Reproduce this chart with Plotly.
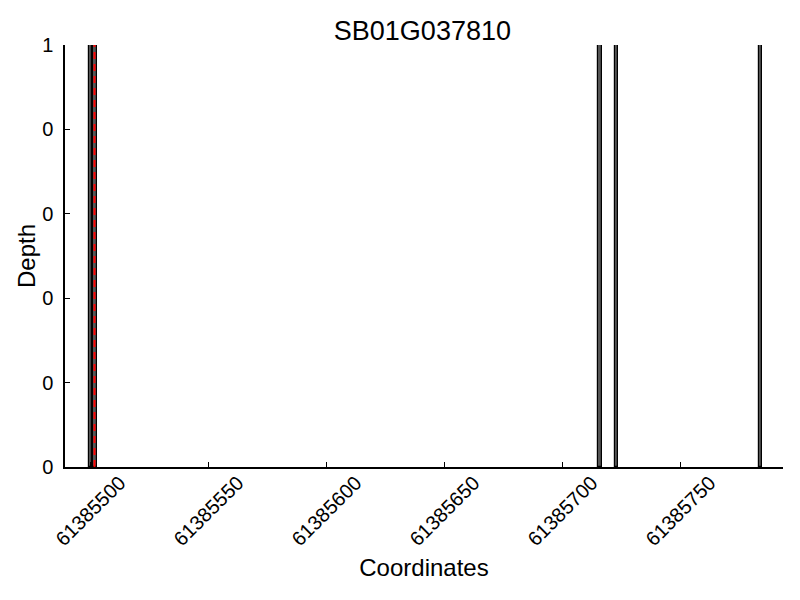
import plotly.graph_objects as go

# Data
positions = [61385500, 61385502, 61385716, 61385723, 61385784]
depths = [1, 1, 1, 1, 1]
marker_position = 61385501.8
x_tick_vals = [61385500, 61385550, 61385600, 61385650, 61385700, 61385750]
x_tick_text = ["61385500", "61385550", "61385600", "61385650", "61385700", "61385750"]
y_tick_vals = [0, 0.2, 0.4, 0.6, 0.8, 1.0]
y_tick_text = ["0", "0", "0", "0", "0", "1"]
title_text = "SB01G037810"

FONT = "Liberation Sans, Arial, sans-serif"

fig = go.Figure()
fig.add_trace(go.Bar(
    x=positions, y=depths, width=1.4,
    marker=dict(color="#555555", line=dict(color="black", width=1.2)),
    showlegend=False,
))
fig.add_trace(go.Scatter(
    x=[marker_position, marker_position], y=[0, 1], mode="lines",
    line=dict(color="red", width=2, dash="7px,5px"),
    showlegend=False,
))

# rotated tick labels centred on their ticks (as in the reference)
for tv, tt in zip(x_tick_vals, x_tick_text):
    fig.add_annotation(
        x=tv, xref="x", y=-0.104, yref="paper",
        text=tt, textangle=-45, showarrow=False,
        xanchor="center", yanchor="middle",
        font=dict(size=20, family=FONT, color="black"),
    )

# page body has an 8px offset, margins compensate for it
fig.update_layout(
    width=800, height=600,
    paper_bgcolor="white", plot_bgcolor="white",
    margin=dict(l=57, r=25, t=37, b=141, autoexpand=False),
    font=dict(family=FONT, color="black"),
    title=dict(text=title_text, x=0.518, xanchor="center", y=0.963, yanchor="middle",
               automargin=False,
               font=dict(size=27, family=FONT, color="black")),
    bargap=0,
)
fig.update_xaxes(
    range=[61385489.3, 61385793.5], automargin=False,
    tickvals=x_tick_vals, showticklabels=False,
    ticks="inside", ticklen=5, tickcolor="black", tickwidth=1,
    showline=True, linecolor="black", linewidth=1.5, mirror=False,
    showgrid=False, zeroline=False,
    title=dict(text="Coordinates", font=dict(size=24, family=FONT, color="black"), standoff=91),
)
fig.update_yaxes(
    range=[0, 1], automargin=False,
    tickvals=y_tick_vals, ticktext=y_tick_text,
    ticks="inside", ticklen=5, tickcolor="black", tickwidth=1,
    showline=True, linecolor="black", linewidth=1.5, mirror=False,
    showgrid=False, zeroline=False, ticklabelstandoff=6,
    tickfont=dict(size=20, family=FONT, color="black"),
    title=dict(text="Depth", font=dict(size=24, family=FONT, color="black"), standoff=0),
)

fig.write_html("out.html")
